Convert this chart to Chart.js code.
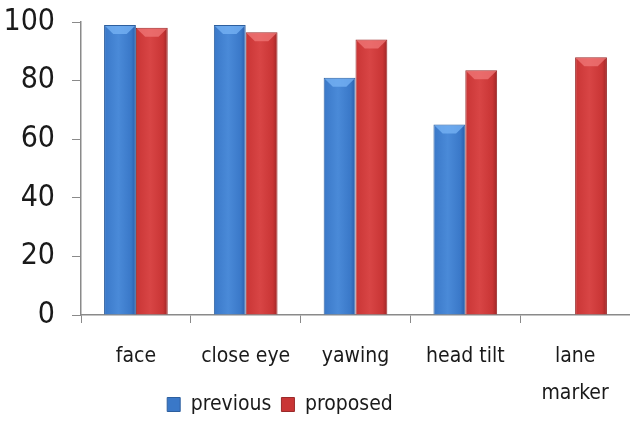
<!DOCTYPE html>
<html lang="en">
<head>
<meta charset="UTF-8">
<title>previous vs proposed</title>
<style>
  body { margin: 0; background: #fff; }
  #wrap { width: 630px; height: 425px; }
</style>
</head>
<body>
<div id="wrap"><canvas id="chart"></canvas></div>
<script src="https://cdn.jsdelivr.net/npm/chart.js"></script>
<script>
const categories = ['face', 'close eye', 'yawing', 'head tilt', ['lane', 'marker']];
const previous = [99, 99, 81, 65, null];
const proposed = [98, 96.5, 94, 83.5, 88];
const yTicks = [0, 20, 40, 60, 80, 100];

const FONT = "'DejaVu Sans Condensed', 'Liberation Sans Narrow', sans-serif";
const bevel = ['rgba(120,180,245,0.75)', 'rgba(240,120,120,0.75)'];

// horizontal shading per bar, built from the x scale
function shade(dark, mid, light, side) {
  return function (ctx) {
    const chart = ctx.chart;
    if (!chart.chartArea || ctx.type !== 'data') return mid;
    const x = chart.scales.x;
    const cat = x.width / categories.length;
    const w = cat * 0.58 / 2;
    const c = x.getPixelForValue(ctx.dataIndex);
    const left = side === 0 ? c - w : c;
    const g = chart.ctx.createLinearGradient(left, 0, left + w, 0);
    g.addColorStop(0, mid);
    g.addColorStop(0.45, light);
    g.addColorStop(0.85, mid);
    g.addColorStop(1, dark);
    return g;
  };
}

// legend sits left of centre; x labels may run below the axis box
const layoutTweaks = {
  id: 'layoutTweaks',
  afterLayout(chart) {
    const lg = chart.legend;
    lg.left -= 35;
    lg.right -= 35;
    chart.scales.x.bottom = chart.height;
  }
};

// light chevron on top of each bar, like the original's bevel
const barBevel = {
  id: 'barBevel',
  afterDatasetsDraw(chart) {
    const ctx = chart.ctx;
    chart.data.datasets.forEach((ds, i) => {
      chart.getDatasetMeta(i).data.forEach((bar, j) => {
        if (ds.data[j] == null) return;
        const p = bar.getProps(['x', 'y', 'width'], true);
        const half = p.width / 2 - 1;
        ctx.save();
        ctx.fillStyle = bevel[i];
        ctx.beginPath();
        ctx.moveTo(p.x - half, p.y + 1);
        ctx.lineTo(p.x + half, p.y + 1);
        ctx.lineTo(p.x + half * 0.45, p.y + 9);
        ctx.lineTo(p.x - half * 0.45, p.y + 9);
        ctx.closePath();
        ctx.fill();
        ctx.restore();
      });
    });
  }
};

new Chart(document.getElementById('chart'), {
  type: 'bar',
  data: {
    labels: categories,
    datasets: [
      {
        label: 'previous',
        data: previous,
        backgroundColor: shade('#2a5da8', '#3a78c8', '#4a8ad8', 0),
        borderColor: '#2d5f9e',
        borderWidth: 1,
        borderSkipped: 'bottom'
      },
      {
        label: 'proposed',
        data: proposed,
        backgroundColor: shade('#9e2626', '#c93535', '#d84545', 1),
        borderColor: '#9a2a2a',
        borderWidth: 1,
        borderSkipped: 'bottom'
      }
    ]
  },
  options: {
    responsive: true,
    maintainAspectRatio: false,
    animation: false,
    datasets: { bar: { categoryPercentage: 0.58, barPercentage: 1.0 } },
    layout: { padding: 0 },
    scales: {
      x: {
        grid: { offset: true, drawOnChartArea: false, tickLength: 8, color: '#8a8a8a' },
        border: { color: '#8a8a8a', width: 1.5 },
        ticks: {
          color: '#1a1a1a',
          padding: 15,
          maxRotation: 0,
          autoSkip: false,
          font: { family: FONT, size: 21, lineHeight: 1.75 }
        },
        afterFit(scale) { scale.height = 69; }
      },
      y: {
        min: 0,
        max: 100,
        afterBuildTicks(scale) { scale.ticks = yTicks.map(v => ({ value: v })); },
        grid: { drawOnChartArea: false, tickLength: 9, color: '#8a8a8a' },
        border: { color: '#8a8a8a', width: 1.5 },
        ticks: {
          color: '#1a1a1a',
          padding: 17,
          font: { family: FONT, size: 30 }
        },
        afterFit(scale) {
          scale.width = 81;
          scale.paddingTop = 22;
          scale.paddingBottom = 0;
        }
      }
    },
    plugins: {
      legend: {
        position: 'bottom',
        labels: {
          color: '#1a1a1a',
          boxWidth: 13,
          boxHeight: 14,
          padding: 10,
          font: { family: FONT, size: 21 },
          generateLabels(chart) {
            const fills = ['#3a78c8', '#c93535'];
            const edges = ['#2d5f9e', '#9a2a2a'];
            return chart.data.datasets.map((ds, i) => ({
              text: ds.label,
              fillStyle: fills[i],
              strokeStyle: edges[i],
              lineWidth: 1,
              datasetIndex: i,
              fontColor: '#1a1a1a'
            }));
          }
        }
      },
      tooltip: { enabled: false }
    }
  },
  plugins: [layoutTweaks, barBevel]
});
</script>
</body>
</html>
